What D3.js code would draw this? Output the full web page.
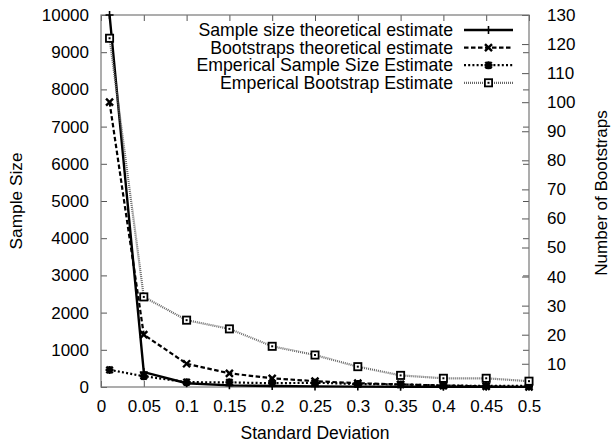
<!DOCTYPE html>
<html><head><meta charset="utf-8">
<script src="https://cdn.jsdelivr.net/npm/d3@7"></script>
<style>body{margin:0;background:#fff}text{font-family:"Liberation Sans",Arial,sans-serif;fill:#000}</style>
</head><body>
<svg id="c" width="611" height="443"></svg>
<script>
const sigma = [0.01,0.05,0.1,0.15,0.2,0.25,0.3,0.35,0.4,0.45,0.5];
const sampleTheory = [10000,400,100,44,25,16,11,8,6,5,4];
const bootTheory = [100,20,10,6.7,5,4,3.3,2.9,2.5,2.2,2];
const sampleEmp = [460,290,130,125,100,115,80,70,40,30,30];
const bootEmp = [122,33,25,22,16,13,9,6,5,5,4];
const xTicks = [0,0.05,0.1,0.15,0.2,0.25,0.3,0.35,0.4,0.45,0.5];
const yTicks = [0,1000,2000,3000,4000,5000,6000,7000,8000,9000,10000];
const y2Ticks = [10,20,30,40,50,60,70,80,90,100,110,120,130];
const seriesNames = ["Sample size theoretical estimate","Bootstraps theoretical estimate","Emperical Sample Size Estimate","Emperical Bootstrap Estimate"];

const L=101,R=529,T=15,B=387;
const svg=d3.select("#c");
const x=d3.scaleLinear().domain([0,0.5]).range([L,R]);
const y=d3.scaleLinear().domain([0,10000]).range([B,T]);
const y2=d3.scaleLinear().domain([2,130]).range([B,T]);
const fs=17;

function style(g,labels){
  g.select(".domain").remove();
  g.selectAll(".tick line").attr("stroke","#555").attr("stroke-width",1);
  g.selectAll(".tick text").attr("font-size",fs).attr("font-family","Liberation Sans, Arial, sans-serif").attr("fill","#000");
  if(!labels) g.selectAll(".tick text").remove();
}
const fmt=d=>String(+d.toFixed(2));
style(svg.append("g").attr("transform",`translate(0,${B})`).call(d3.axisBottom(x).tickValues(xTicks).tickFormat(fmt).tickSize(-6).tickPadding(13)),true);
style(svg.append("g").attr("transform",`translate(0,${T})`).call(d3.axisTop(x).tickValues(xTicks).tickSize(-6)),false);
style(svg.append("g").attr("transform",`translate(${L},0)`).call(d3.axisLeft(y).tickValues(yTicks).tickFormat(d3.format("d")).tickSize(-6).tickPadding(12)),true);
style(svg.append("g").attr("transform",`translate(${R},0)`).call(d3.axisRight(y).tickValues(yTicks).tickSize(-6)),false);
style(svg.append("g").attr("transform",`translate(${R},0)`).call(d3.axisRight(y2).tickValues(y2Ticks).tickFormat(d3.format("d")).tickSize(-7).tickPadding(18)),true);

svg.append("rect").attr("x",L).attr("y",T).attr("width",R-L).attr("height",B-T)
  .attr("fill","none").attr("stroke","#777").attr("stroke-width",1.2);

const styles=[
  {scale:y,data:sampleTheory,color:"#000",width:2.4,dash:null,marker:"plus"},
  {scale:y2,data:bootTheory,color:"#000",width:2.2,dash:"4.5,2.5",marker:"cross"},
  {scale:y,data:sampleEmp,color:"#000",width:2.2,dash:"2,2.2",marker:"star"},
  {scale:y2,data:bootEmp,color:"#666",width:2.2,dash:"1,1",marker:"box"}
];
function drawMarker(g,type,cx,cy){
  const m=g.append("g").attr("transform",`translate(${cx},${cy})`);
  if(type==="plus"){
    m.append("path").attr("d","M-4,0H4M0,-4V4").attr("stroke","#000").attr("stroke-width",1.6).attr("fill","none");
  }else if(type==="cross"){
    m.append("path").attr("d","M-3.5,-3.5L3.5,3.5M-3.5,3.5L3.5,-3.5").attr("stroke","#000").attr("stroke-width",2.4).attr("fill","none");
  }else if(type==="star"){
    m.append("path").attr("d","M-4,0H4M0,-4V4M-3.2,-3.2L3.2,3.2M-3.2,3.2L3.2,-3.2").attr("stroke","#000").attr("stroke-width",2.4).attr("fill","none");
  }else{
    m.append("rect").attr("x",-3.6).attr("y",-3.6).attr("width",7.2).attr("height",7.2).attr("fill","#fff").attr("stroke","#000").attr("stroke-width",1.8);
    m.append("rect").attr("x",-1).attr("y",-1).attr("width",2).attr("height",2).attr("fill","#000");
  }
}
styles.forEach((s,i)=>{
  const line=d3.line().x((d,j)=>x(sigma[j])).y(d=>s.scale(d));
  const g=svg.append("g");
  g.append("path").attr("d",line(s.data)).attr("fill","none").attr("stroke",s.color)
    .attr("stroke-width",s.width).attr("stroke-dasharray",s.dash);
  s.data.forEach((d,j)=>drawMarker(g,s.marker,x(sigma[j]),s.scale(d)));
  // legend
  const ly=30+i*17.6;
  svg.append("text").attr("x",453).attr("y",ly).attr("dy","0.35em").attr("text-anchor","end")
    .attr("font-size",17.7).text(seriesNames[i]);
  svg.append("line").attr("x1",464).attr("x2",513).attr("y1",ly).attr("y2",ly)
    .attr("stroke",s.color).attr("stroke-width",s.width).attr("stroke-dasharray",s.dash);
  drawMarker(svg,s.marker,488.5,ly);
});

svg.append("text").attr("transform","translate(16,201) rotate(-90)").attr("text-anchor","middle")
  .attr("dy","0.35em").attr("font-size",17.3).text("Sample Size");
svg.append("text").attr("transform","translate(601,193) rotate(-90)").attr("text-anchor","middle")
  .attr("dy","0.35em").attr("font-size",17).text("Number of Bootstraps");
svg.append("text").attr("x",315).attr("y",433).attr("text-anchor","middle")
  .attr("dy","0.35em").attr("font-size",17.5).text("Standard Deviation");
</script>
</body></html>
